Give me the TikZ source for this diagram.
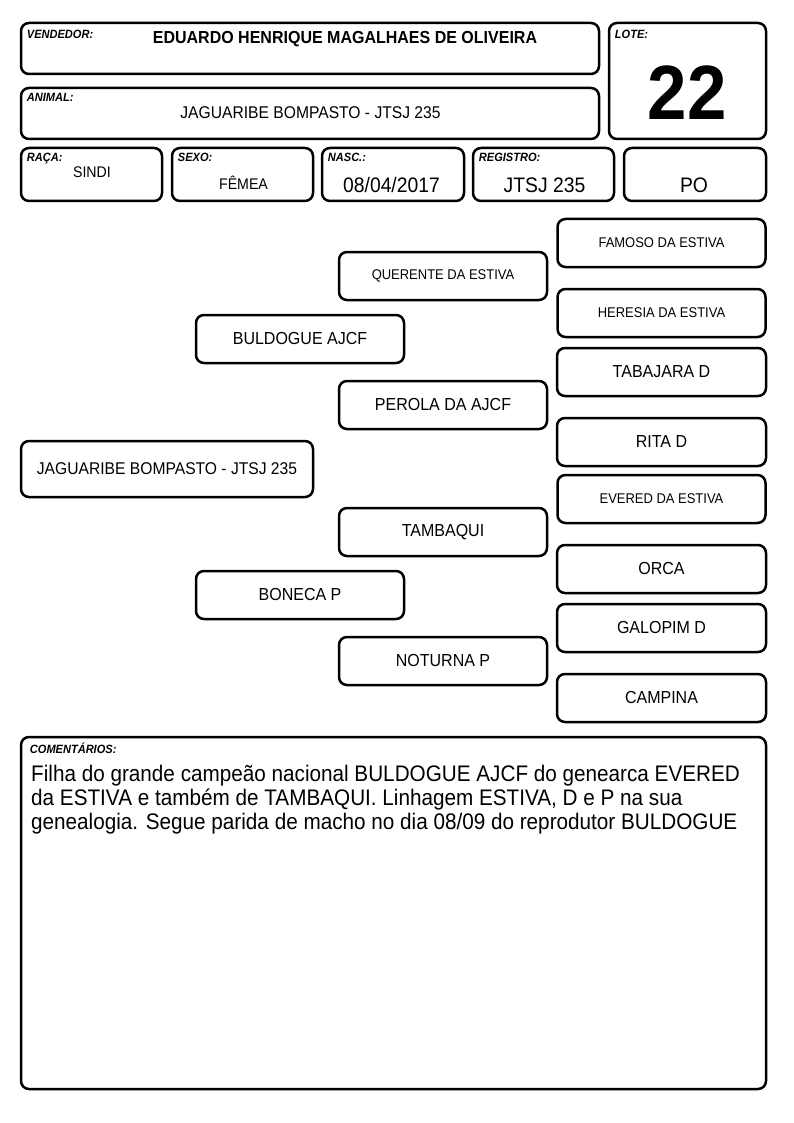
\documentclass[tikz,border=0pt]{standalone}
\usepackage{fontspec}
\setmainfont{Liberation Sans}[FakeStretch=0.92]
\usetikzlibrary{positioning}
\tikzset{
    campo/.style={rectangle, rounded corners=8pt, draw=black, line width=2.5pt, inner sep=0pt, align=center},
    rotulo/.style={anchor=north west, inner sep=0pt, font=\fontsize{12}{14}\selectfont\bfseries\itshape},
    valor/.style={anchor=base, inner sep=0pt, font=\fontsize{21}{24}\selectfont},
    gen/.style={campo, minimum width=208pt, minimum height=48pt, font=\fontsize{17.4}{20}\selectfont},
    genmenor/.style={gen, font=\fontsize{14.1}{16}\selectfont}
}

\begin{document}
\begin{tikzpicture}[x=1pt, y=-1pt,
      cab/.style={campo, minimum width=578pt, minimum height=51pt},
      peq/.style={campo, minimum width=141pt, minimum height=53pt},
      avo/.style={gen, minimum width=209pt}
    ]
    \useasboundingbox (0,0) rectangle (794,1123);
    \node[cab] (vendedor) at (310,48.5) {};
    \node[rotulo] at ([shift={(7pt,-8pt)}]vendedor.north west) {VENDEDOR:};
    \node[valor, font=\fontsize{17.4}{20}\selectfont\bfseries] at (345,44) {EDUARDO HENRIQUE MAGALHAES DE OLIVEIRA};
    \node[cab] (animal) at (310,113.5) {};
    \node[rotulo] at ([shift={(7pt,-6pt)}]animal.north west) {ANIMAL:};
    \node[valor, font=\fontsize{17}{20}\selectfont] at (310.5,119) {JAGUARIBE BOMPASTO - JTSJ 235};
    \node[campo, minimum width=157pt, minimum height=116pt] (lote) at (687.5,81) {};
    \node[rotulo] at ([shift={(7pt,-8pt)}]lote.north west) {LOTE:};
    \node[valor, font=\fontsize{77}{80}\selectfont\bfseries] at (687,120) {22};
    \node[peq] (raca) at (91.5,174.5) {};
    \node[rotulo] at ([shift={(7pt,-6pt)}]raca.north west) {RAÇA:};
    \node[valor, font=\fontsize{15.4}{18}\selectfont] at (92,178) {SINDI};
    \node[peq] (sexo) at (242.5,174.5) {};
    \node[rotulo] at ([shift={(7pt,-6pt)}]sexo.north west) {SEXO:};
    \node[valor, font=\fontsize{15.4}{18}\selectfont] at (243.5,190) {FÊMEA};
    \node[peq, minimum width=142pt] (nasc) at (393,174.5) {};
    \node[rotulo] at ([shift={(7pt,-6pt)}]nasc.north west) {NASC.:};
    \node[valor] at (391.5,193) {08/04/2017};
    \node[peq] (registro) at (543.5,174.5) {};
    \node[rotulo] at ([shift={(7pt,-6pt)}]registro.north west) {REGISTRO:};
    \node[valor] at (544.5,193) {JTSJ 235};
    \node[peq, minimum width=142pt] (categoria) at (695,174.5) {};
    \node[valor] at (694,193) {PO};

    \node[gen, minimum width=292pt, minimum height=56pt, font=\fontsize{17}{20}\selectfont] (filho) at (167,469) {JAGUARIBE BOMPASTO - JTSJ 235};
    \node[gen] (pai) at (300,339) {BULDOGUE AJCF};
    \node[gen] (mae) at (300,595) {BONECA P};
    \node[genmenor] (avopp) at (443,276) {QUERENTE DA ESTIVA};
    \node[gen] (avopm) at (443,405) {PEROLA DA AJCF};
    \node[gen] (avomp) at (443,532) {TAMBAQUI};
    \node[gen] (avomm) at (443,661) {NOTURNA P};
    \node[avo, genmenor] (bisa1) at (661.5,243) {FAMOSO DA ESTIVA};
    \node[avo, genmenor] (bisa2) at (661.5,313) {HERESIA DA ESTIVA};
    \node[avo] (bisa3) at (661.5,372) {TABAJARA D};
    \node[avo] (bisa4) at (661.5,442) {RITA D};
    \node[avo, genmenor] (bisa5) at (661.5,499) {EVERED DA ESTIVA};
    \node[avo] (bisa6) at (661.5,569) {ORCA};
    \node[avo] (bisa7) at (661.5,628) {GALOPIM D};
    \node[avo] (bisa8) at (661.5,698) {CAMPINA};

    \node[campo, minimum width=745pt, minimum height=352pt] (comentarios) at (393.5,913) {};
    \node[rotulo] at ([shift={(10pt,-7pt)}]comentarios.north west) {COMENTÁRIOS:};
    \node[anchor=north west, inner sep=0pt, align=left, font=\fontsize{22.5}{24}\selectfont] at (31,765) {Filha do grande campeão nacional BULDOGUE AJCF do genearca EVERED\\da ESTIVA e também de TAMBAQUI. Linhagem ESTIVA, D e P na sua\\genealogia. Segue parida de macho no dia 08/09 do reprodutor BULDOGUE};
\end{tikzpicture}
\end{document}
